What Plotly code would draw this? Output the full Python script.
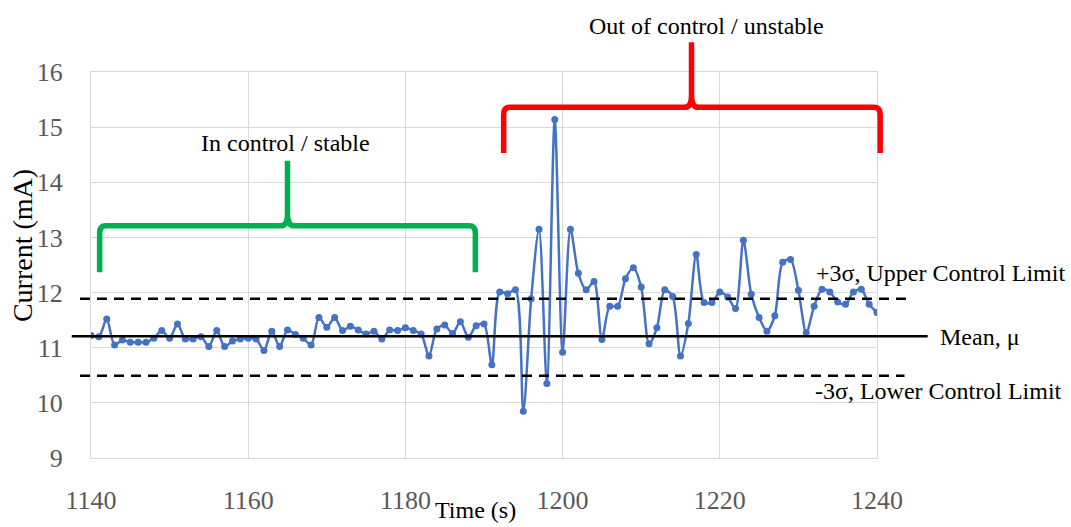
import plotly.graph_objects as go

# ---- data ----
time_s = list(range(1140, 1241))
current_ma = [
    11.22, 11.20, 11.52, 11.05, 11.14, 11.10, 11.10, 11.10, 11.17, 11.31,
    11.17, 11.43, 11.16, 11.16, 11.20, 11.02, 11.31, 11.02, 11.12, 11.16,
    11.17, 11.16, 10.95, 11.30, 11.02, 11.32, 11.24, 11.17, 11.05, 11.55,
    11.37, 11.55, 11.31, 11.39, 11.32, 11.25, 11.30, 11.16, 11.32, 11.31,
    11.36, 11.31, 11.25, 10.85, 11.34, 11.41, 11.26, 11.47, 11.19, 11.40,
    11.43, 10.69, 12.01, 11.98, 12.05, 9.85, 11.89, 13.15, 10.35, 15.14,
    10.92, 13.15, 12.35, 12.05, 12.20, 11.15, 11.75, 11.75, 12.25, 12.45,
    12.10, 11.07, 11.36, 12.05, 11.93, 10.85, 11.44, 12.69, 11.82, 11.82,
    12.01, 11.92, 11.71, 12.95, 11.97, 11.55, 11.30, 11.58, 12.55, 12.60,
    12.04, 11.27, 11.75, 12.06, 12.01, 11.83, 11.79, 12.01, 12.06, 11.79,
    11.64,
]
mean_mu = 11.21
ucl = 11.89
lcl = 10.49
x_ticks = [1140, 1160, 1180, 1200, 1220, 1240]
y_ticks = [9, 10, 11, 12, 13, 14, 15, 16]
X_MIN, X_MAX = 1140, 1240
Y_MIN, Y_MAX = 9, 16

SERIF = "Liberation Serif"


def px_(x):
    return (x - X_MIN) / (X_MAX - X_MIN)


def py_(y):
    return (y - Y_MIN) / (Y_MAX - Y_MIN)


fig = go.Figure()
fig.add_trace(go.Scatter(
    x=time_s, y=current_ma, mode="lines+markers",
    line=dict(color="#4472C4", width=2.5, shape="spline", smoothing=0.8),
    marker=dict(color="#4472C4", size=7),
    showlegend=False, hoverinfo="x+y",
))

shapes = []
# control lines (extend beyond plot area)
shapes.append(dict(type="line", xref="paper", yref="paper",
                   x0=px_(1137.55), x1=px_(1246.45), y0=py_(mean_mu), y1=py_(mean_mu),
                   line=dict(color="black", width=2.5)))
shapes.append(dict(type="line", xref="paper", yref="paper",
                   x0=px_(1138.6), x1=px_(1244.4), y0=py_(ucl), y1=py_(ucl),
                   line=dict(color="black", width=2.5, dash="10px,7px")))
shapes.append(dict(type="line", xref="paper", yref="paper",
                   x0=px_(1138.6), x1=px_(1243.5), y0=py_(lcl), y1=py_(lcl),
                   line=dict(color="black", width=2.5, dash="10px,7px")))


def brace(x0, x1, xc, yh, yb, ypk, color):
    rx, ry = 0.8, 0.13      # corner radius (data units)
    cx, cy = 0.85, 0.22     # cusp radius
    def P(x, y):
        return f"{px_(x):.5f},{py_(y):.5f}"
    path = (
        f"M {P(x0, yb)} L {P(x0, yh - ry)} Q {P(x0, yh)} {P(x0 + rx, yh)} "
        f"L {P(xc - cx, yh)} Q {P(xc, yh)} {P(xc, yh + cy)} L {P(xc, ypk)} "
        f"M {P(xc, yh + cy)} Q {P(xc, yh)} {P(xc + cx, yh)} "
        f"L {P(x1 - rx, yh)} Q {P(x1, yh)} {P(x1, yh - ry)} L {P(x1, yb)}"
    )
    return dict(type="path", xref="paper", yref="paper", path=path,
                line=dict(color=color, width=5.5), fillcolor="rgba(0,0,0,0)")


shapes.append(brace(1141.1, 1188.9, 1165.0, 13.21, 12.37, 14.39, "#00B050"))
shapes.append(brace(1192.5, 1240.4, 1216.4, 15.36, 14.53, 16.54, "#FF0000"))

annotations = [
    dict(text="In control / stable", x=px_(1164.8), y=py_(14.71)),
    dict(text="Out of control / unstable", x=px_(1218.3), y=py_(16.83)),
    dict(text="+3σ, Upper Control Limit", x=px_(1232.0), y=py_(12.36), xanchor="left"),
    dict(text="Mean, μ", x=px_(1247.7), y=py_(11.19), xanchor="left"),
    dict(text="-3σ, Lower Control Limit", x=px_(1231.8), y=py_(10.22), xanchor="left"),
    dict(text="Time (s)", x=px_(1188.96), y=-0.135),
]
ann = []
for a in annotations:
    d = dict(xref="paper", yref="paper", showarrow=False,
             xanchor="center", yanchor="middle",
             font=dict(family=SERIF, size=24, color="black"))
    d.update(a)
    ann.append(d)
ann.append(dict(text="Current (mA)", xref="paper", yref="paper", x=-0.0873, y=0.55,
                showarrow=False, textangle=-90, xanchor="center", yanchor="middle",
                font=dict(family=SERIF, size=28, color="black")))

fig.update_layout(
    width=1071, height=527,
    margin=dict(l=91, r=194, t=72, b=65),
    paper_bgcolor="white", plot_bgcolor="white",
    font=dict(family=SERIF),
    shapes=shapes, annotations=ann,
    xaxis=dict(range=[X_MIN, X_MAX], tickvals=x_ticks, showgrid=True,
               gridcolor="#D9D9D9", gridwidth=1, zeroline=False,
               showline=True, linecolor="#D9D9D9", linewidth=1, mirror=True,
               tickfont=dict(family=SERIF, size=26, color="#595959"),
               ticks="", ticklabelstandoff=19, fixedrange=True),
    yaxis=dict(range=[Y_MIN, Y_MAX], tickvals=y_ticks, showgrid=True,
               gridcolor="#D9D9D9", gridwidth=1, zeroline=False,
               showline=True, linecolor="#D9D9D9", linewidth=1, mirror=True,
               tickfont=dict(family=SERIF, size=26, color="#595959"),
               ticks="", ticklabelstandoff=22, fixedrange=True),
)

fig.write_html("out.html")
